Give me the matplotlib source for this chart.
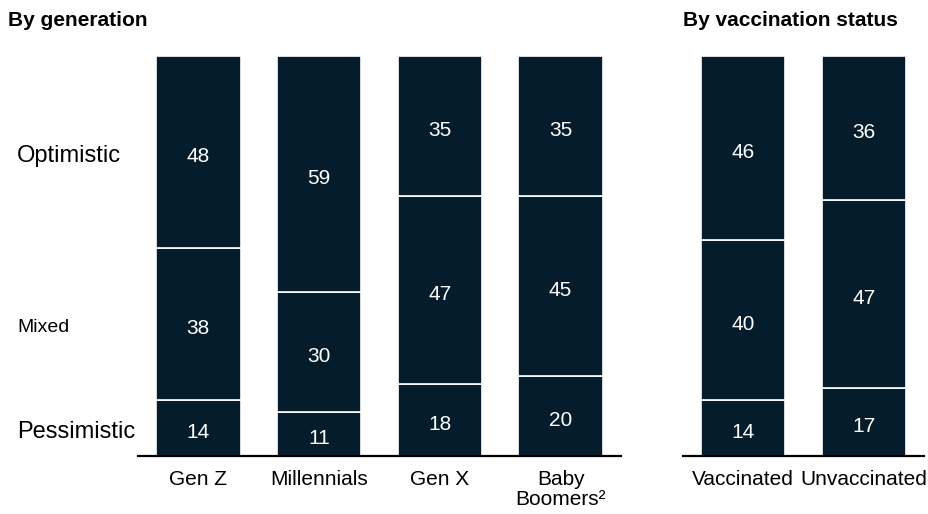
import matplotlib
matplotlib.use("Agg")
import matplotlib.pyplot as plt
from matplotlib.transforms import blended_transform_factory, offset_copy

NAVY = "#051c2c"
FONT = "Liberation Sans"
W, H = 929, 514

GEN_LABELS = ["Gen Z", "Millennials", "Gen X", "Baby\nBoomers\u00b2"]
GEN_PESSIMISTIC = [14, 11, 18, 20]
GEN_MIXED = [38, 30, 47, 45]
GEN_OPTIMISTIC = [48, 59, 35, 35]

VAX_LABELS = ["Vaccinated", "Unvaccinated"]
VAX_PESSIMISTIC = [14, 17]
VAX_MIXED = [40, 47]
VAX_OPTIMISTIC = [46, 36]

ROW_NAMES = ["Pessimistic", "Mixed", "Optimistic"]
ROW_SIZES = [17, 14, 17]

plt.rcParams["font.family"] = [FONT, "DejaVu Sans"]


def stacked(fig, ax, labels, pess, mixed, opt):
    x = list(range(len(labels)))
    bottom = [0] * len(labels)
    # labels sit a touch below the segment centre, as in the original
    tr = offset_copy(ax.transData, fig=fig, x=0, y=-4, units="dots")
    for series in (pess, mixed, opt):
        ax.bar(x, series, 0.7, bottom=bottom, color=NAVY,
               edgecolor="white", linewidth=1.2)
        for xi, b, v in zip(x, bottom, series):
            ax.text(xi, b + v / 2, str(v), ha="center", va="center",
                    color="white", fontsize=15, transform=tr)
        bottom = [b + v for b, v in zip(bottom, series)]
    ax.set_xlim(-0.5, len(labels) - 0.5)
    ax.set_ylim(0, 100)
    ax.set_xticks(x)
    ax.set_xticklabels(labels, fontsize=15, va="top", linespacing=1.1)
    ax.tick_params(length=0, pad=10)
    ax.set_yticks([])
    for s in ("top", "left", "right"):
        ax.spines[s].set_visible(False)
    ax.spines["bottom"].set_linewidth(1.6)
    ax.spines["bottom"].set_color("black")


fig = plt.figure(figsize=(W / 100, H / 100), dpi=100)
ax1 = fig.add_axes([138 / W, 58 / H, 483 / W, 400 / H])
ax2 = fig.add_axes([683 / W, 58 / H, 241 / W, 400 / H])

stacked(fig, ax1, GEN_LABELS, GEN_PESSIMISTIC, GEN_MIXED, GEN_OPTIMISTIC)
stacked(fig, ax2, VAX_LABELS, VAX_PESSIMISTIC, VAX_MIXED, VAX_OPTIMISTIC)

# row labels sit at the Gen Z segment centres
tr = offset_copy(blended_transform_factory(fig.transFigure, ax1.transData),
                 fig=fig, x=0, y=-4, units="dots")
y0 = 0
for name, size, v in zip(ROW_NAMES, ROW_SIZES,
                         [GEN_PESSIMISTIC[0], GEN_MIXED[0], GEN_OPTIMISTIC[0]]):
    ax1.text(17 / W, y0 + v / 2, name, transform=tr, ha="left", va="center",
             fontsize=size, color="black")
    y0 += v

fig.text(8 / W, 1 - 20 / H, "By generation", fontsize=15, fontweight="bold",
         ha="left", va="center")
fig.text(683 / W, 1 - 20 / H, "By vaccination status", fontsize=15,
         fontweight="bold", ha="left", va="center")

fig.savefig("out.png", dpi=100)
